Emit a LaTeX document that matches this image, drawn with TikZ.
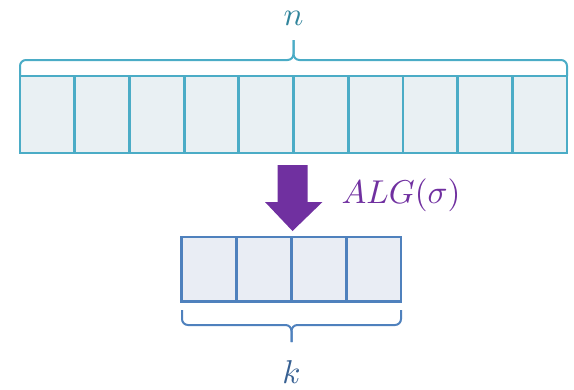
\documentclass[tikz,border=0pt]{standalone}
\usepackage{tikz}
\definecolor{tealline}{HTML}{4BACC6}
\definecolor{tealfill}{HTML}{E9F0F3}
\definecolor{tealtext}{HTML}{31859C}
\definecolor{blueline}{HTML}{4F81BD}
\definecolor{bluefill}{HTML}{E9EDF4}
\definecolor{bluetext}{HTML}{376092}
\definecolor{algpurple}{HTML}{7030A0}
\tikzset{
 bigcell/.style={draw=tealline,fill=tealfill,line width=2.8pt,inner sep=0pt,
   minimum width=54.7pt,minimum height=77pt},
 smallcell/.style={draw=blueline,fill=bluefill,line width=2.8pt,inner sep=0pt,
   minimum width=54.8pt,minimum height=64.7pt},
 label/.style={scale=3.3,inner sep=0pt},
}
\begin{document}
\begin{tikzpicture}[x=1pt,y=-1pt]
\useasboundingbox (0,0) rectangle (574,389);
% the n cells
\foreach \i in {1,...,10}
 \node[bigcell] (c\i) at ({20+54.7*(\i-0.5)},114.5){};
% the k cells
\foreach \i in {1,...,4}
 \node[smallcell] (d\i) at ({181.7+54.8*(\i-0.5)},269.3){};
% braces
\draw[tealline,line width=2pt,rounded corners=6pt](20,76)--(20,60)--(293.5,60)--(293.5,40);
\draw[tealline,line width=2pt,rounded corners=6pt](567,76)--(567,60)--(293.5,60)--(293.5,40);
\draw[blueline,line width=2pt,rounded corners=6pt](182,310)--(182,325)--(291.5,325)--(291.5,342);
\draw[blueline,line width=2pt,rounded corners=6pt](401,310)--(401,325)--(291.5,325)--(291.5,342);
\node[label,text=tealtext,anchor=base] (n) at (293.5,25){$n$};
\node[label,text=bluetext,anchor=base] (k) at (291.5,383){$k$};
% the arrow
\fill[algpurple](277.5,165)--(307.5,165)--(307.5,202)--(322.5,202)--(292.5,231)--(265,202)--(277.5,202)--cycle;
\node[label,text=algpurple,anchor=base west] (alg) at (341,203){$ALG(\sigma)$};
\end{tikzpicture}
\end{document}
